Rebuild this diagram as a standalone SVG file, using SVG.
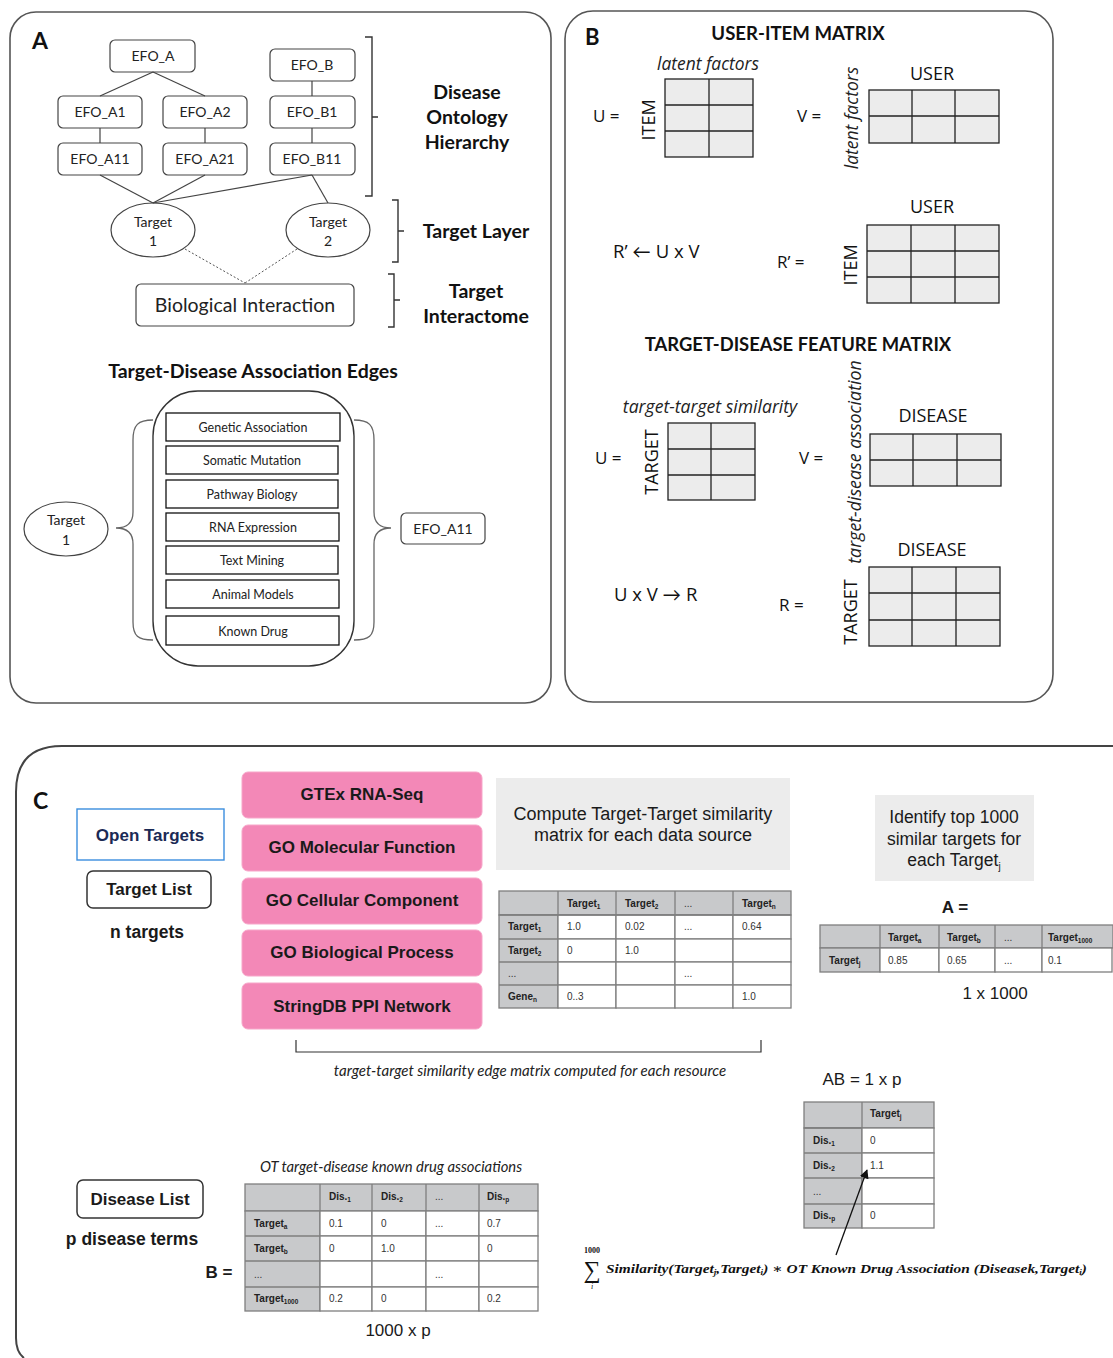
<svg xmlns="http://www.w3.org/2000/svg" width="1113" height="1358" viewBox="0 0 1113 1358">
<style>
.panel{fill:#fff;stroke:#555;stroke-width:1.6}
.node{fill:#fff;stroke:#444;stroke-width:1.2}
.ntx{font-family:Lato,"Open Sans",sans-serif;font-size:14px;fill:#222;text-anchor:middle}
.hd{font-family:Lato,"Open Sans",sans-serif;font-weight:bold;fill:#111;text-anchor:middle}
.lbl{font-family:"Open Sans",Lato,sans-serif;fill:#111}
.it{font-family:"Open Sans",Lato,sans-serif;font-style:italic;fill:#222}
.line{stroke:#444;stroke-width:1.2;fill:none}
.dot{stroke:#555;stroke-width:1;stroke-dasharray:2 2;fill:none}
.br{stroke:#333;stroke-width:1.4;fill:none}
.brace{stroke:#666;stroke-width:1.3;fill:none}
.ev{fill:#fff;stroke:#111;stroke-width:1.3}
.evt{font-family:Lato,"Open Sans",sans-serif;font-size:12.5px;fill:#222;text-anchor:middle}
.grid{fill:#ececec;stroke:#222;stroke-width:1.3}
.gl{stroke:#222;stroke-width:1.3}
.pink{fill:#f388b7;stroke:#f7a6c9;stroke-width:1}
.pt{font-family:"Liberation Sans",Arial,sans-serif;font-weight:bold;font-size:17px;fill:#1a1a1a;text-anchor:middle}
.ar{font-family:"Liberation Sans",Arial,sans-serif;fill:#1a1a1a}
.gbox{fill:#ececec}
.tg{fill:#c8c9cb;stroke:#7f7f7f;stroke-width:1.3}
.tw{fill:#fff;stroke:#7f7f7f;stroke-width:1.3}
.th{font-family:"Liberation Sans",Arial,sans-serif;font-weight:bold;font-size:10px;fill:#222}
.td{font-family:"Liberation Sans",Arial,sans-serif;font-size:10px;fill:#333}
.sb{font-size:6.5px}
</style>
<defs>
<marker id="arr" viewBox="0 0 10 10" refX="9" refY="5" markerWidth="7" markerHeight="7" orient="auto"><path d="M0,0 L10,5 L0,10 z" fill="#111"/></marker>
</defs>

<!-- Panel frames -->
<rect class="panel" x="10" y="12" width="541" height="691" rx="26"/>
<rect class="panel" x="565" y="11" width="488" height="691" rx="28"/>
<path d="M1113,746 L62,746 Q16,746 16,792 L16,1338 Q16,1352 24,1358" fill="none" stroke="#444" stroke-width="2"/>

<!-- Panel A -->
<text x="32" y="49" font-family="Lato,sans-serif" font-weight="bold" font-size="23" fill="#111">A</text>

<g id="efo_a"><rect class="node" x="110" y="40" width="85" height="32" rx="5"/><text class="ntx" x="153" y="61">EFO_A</text></g>
<g id="efo_b"><rect class="node" x="270" y="49" width="85" height="32" rx="5"/><text class="ntx" x="312" y="70">EFO_B</text></g>
<g id="efo_a1"><rect class="node" x="58" y="96" width="84" height="32" rx="5"/><text class="ntx" x="100" y="117">EFO_A1</text></g>
<g id="efo_a2"><rect class="node" x="163" y="96" width="84" height="32" rx="5"/><text class="ntx" x="205" y="117">EFO_A2</text></g>
<g id="efo_b1"><rect class="node" x="270" y="96" width="85" height="32" rx="5"/><text class="ntx" x="312" y="117">EFO_B1</text></g>
<g id="efo_a11"><rect class="node" x="58" y="143" width="84" height="32" rx="5"/><text class="ntx" x="100" y="164">EFO_A11</text></g>
<g id="efo_a21"><rect class="node" x="163" y="143" width="84" height="32" rx="5"/><text class="ntx" x="205" y="164">EFO_A21</text></g>
<g id="efo_b11"><rect class="node" x="270" y="143" width="85" height="32" rx="5"/><text class="ntx" x="312" y="164">EFO_B11</text></g>
<g id="target1"><ellipse class="node" cx="153" cy="230" rx="42" ry="27"/><text class="ntx" x="153" y="227">Target</text><text class="ntx" x="153" y="246">1</text></g>
<g id="target2"><ellipse class="node" cx="328" cy="230" rx="42" ry="27"/><text class="ntx" x="328" y="227">Target</text><text class="ntx" x="328" y="246">2</text></g>
<g id="bio"><rect class="node" x="136" y="284" width="218" height="42" rx="5"/><text class="ntx" x="245" y="312" style="font-size:19.5px">Biological Interaction</text></g>

<g id="brackets">
<path class="br" d="M365,37 L372,37 L372,196 L365,196 M372,117 L378,117"/>
<path class="br" d="M392,200 L398,200 L398,262 L392,262 M398,231 L404,231"/>
<path class="br" d="M388,274 L394,274 L394,327 L388,327 M394,300 L400,300"/>
</g>
<text class="hd" font-size="19.5" x="467" y="99">Disease</text>
<text class="hd" font-size="19.5" x="467" y="124">Ontology</text>
<text class="hd" font-size="19.5" x="467" y="149">Hierarchy</text>
<text class="hd" font-size="19.5" x="476" y="238">Target Layer</text>
<text class="hd" font-size="19.5" x="476" y="298">Target</text>
<text class="hd" font-size="19.5" x="476" y="323">Interactome</text>

<text class="hd" font-size="19.5" x="253" y="378">Target-Disease Association Edges</text>
<g id="evidence">
<rect x="153" y="391" width="201" height="275" rx="45" fill="#fff" stroke="#333" stroke-width="1.4"/>
<rect class="ev" x="166" y="413" width="174" height="28"/><text class="evt" x="253" y="432">Genetic Association</text>
<rect class="ev" x="166" y="446" width="172" height="28"/><text class="evt" x="252" y="465">Somatic Mutation</text>
<rect class="ev" x="166" y="480" width="172" height="28"/><text class="evt" x="252" y="499">Pathway Biology</text>
<rect class="ev" x="166" y="513" width="173" height="28"/><text class="evt" x="253" y="532">RNA Expression</text>
<rect class="ev" x="166" y="546" width="172" height="28"/><text class="evt" x="252" y="565">Text Mining</text>
<rect class="ev" x="166" y="580" width="173" height="28"/><text class="evt" x="253" y="599">Animal Models</text>
<rect class="ev" x="166" y="616" width="173" height="29"/><text class="evt" x="253" y="636">Known Drug</text>
</g>
<path class="brace" d="M153,420 C138,420 133,425 133,440 L133,512 C133,522 128,528 116,528 C128,528 133,534 133,544 L133,622 C133,636 138,640 153,640"/>
<path class="brace" d="M354,420 C369,420 374,425 374,440 L374,512 C374,522 379,528 391,528 C379,528 374,534 374,544 L374,622 C374,636 369,640 354,640"/>
<g id="target1b"><ellipse class="node" cx="66" cy="529" rx="42" ry="27"/><text class="ntx" x="66" y="525">Target</text><text class="ntx" x="66" y="545">1</text></g>
<g id="efo_a11b"><rect class="node" x="401" y="513" width="84" height="31" rx="5"/><text class="ntx" x="443" y="534">EFO_A11</text></g>

<!-- Panel B -->
<text x="585" y="45" font-family="Lato,sans-serif" font-weight="bold" font-size="22" fill="#111">B</text>
<text class="hd" font-size="18.6" x="798" y="40">USER-ITEM MATRIX</text>
<text class="it" font-size="17.4" x="708" y="70" text-anchor="middle">latent factors</text>
<text class="lbl" font-size="17" x="593" y="122">U =</text>
<text class="lbl" font-size="18" x="0" y="0" text-anchor="middle" transform="translate(655,120) rotate(-90)">ITEM</text>
<g id="u1"><rect class="grid" x="665" y="79" width="88" height="78"/><path class="gl" d="M709,79 V157 M665,105 H753 M665,131 H753"/></g>
<text class="lbl" font-size="17" x="797" y="122">V =</text>
<text class="it" font-size="17.5" x="0" y="0" text-anchor="middle" transform="translate(858,118) rotate(-90)">latent factors</text>
<text class="lbl" font-size="18" x="932" y="80" text-anchor="middle">USER</text>
<g id="v1"><rect class="grid" x="869" y="90" width="130" height="53"/><path class="gl" d="M912,90 V143 M955,90 V143 M869,116 H999"/></g>
<text class="lbl" font-size="18.5" x="613" y="258">R’ ← U x V</text>
<text class="lbl" font-size="18" x="932" y="213" text-anchor="middle">USER</text>
<text class="lbl" font-size="17" x="777" y="268">R’ =</text>
<text class="lbl" font-size="18" x="0" y="0" text-anchor="middle" transform="translate(857,265) rotate(-90)">ITEM</text>
<g id="r1"><rect class="grid" x="867" y="225" width="132" height="78"/><path class="gl" d="M911,225 V303 M955,225 V303 M867,251 H999 M867,277 H999"/></g>

<text class="hd" font-size="18.4" x="798" y="351">TARGET-DISEASE FEATURE MATRIX</text>
<text class="it" font-size="17.6" x="710" y="413" text-anchor="middle">target-target similarity</text>
<text class="lbl" font-size="17" x="595" y="464">U =</text>
<text class="lbl" font-size="18" x="0" y="0" text-anchor="middle" transform="translate(658,462) rotate(-90)">TARGET</text>
<g id="u2"><rect class="grid" x="668" y="423" width="87" height="77"/><path class="gl" d="M711,423 V500 M668,449 H755 M668,475 H755"/></g>
<text class="lbl" font-size="17" x="799" y="464">V =</text>
<text class="it" font-size="17.8" x="0" y="0" text-anchor="middle" transform="translate(861,462) rotate(-90)">target-disease association</text>
<text class="lbl" font-size="18" x="933" y="422" text-anchor="middle">DISEASE</text>
<g id="v2"><rect class="grid" x="870" y="434" width="131" height="52"/><path class="gl" d="M913,434 V486 M957,434 V486 M870,460 H1001"/></g>
<text class="lbl" font-size="18.5" x="614" y="601">U x V → R</text>
<text class="lbl" font-size="18" x="932" y="556" text-anchor="middle">DISEASE</text>
<text class="lbl" font-size="17" x="779" y="611">R  =</text>
<text class="lbl" font-size="18" x="0" y="0" text-anchor="middle" transform="translate(857,612) rotate(-90)">TARGET</text>
<g id="r2"><rect class="grid" x="869" y="567" width="131" height="79"/><path class="gl" d="M912,567 V646 M956,567 V646 M869,593 H1000 M869,620 H1000"/></g>

<!-- Panel C -->
<text x="33" y="809" font-family="Lato,sans-serif" font-weight="bold" font-size="23" fill="#111">C</text>
<g id="opentargets"><rect x="77" y="809" width="147" height="51" fill="#fff" stroke="#3b8ede" stroke-width="1.4"/><text class="pt" x="150" y="841" style="fill:#1b2a55">Open Targets</text></g>
<g id="targetlist"><rect x="87" y="871" width="124" height="37" rx="6" fill="#fff" stroke="#333" stroke-width="1.5"/><text class="pt" x="149" y="895">Target List</text></g>
<text class="pt" x="147" y="938" style="font-size:17.5px">n targets</text>

<g id="gtex"><rect class="pink" x="242" y="772" width="240" height="46" rx="6"/><text class="pt" x="362" y="800">GTEx RNA-Seq</text></g>
<g id="gomf"><rect class="pink" x="242" y="825" width="240" height="46" rx="6"/><text class="pt" x="362" y="853">GO Molecular Function</text></g>
<g id="gocc"><rect class="pink" x="242" y="878" width="240" height="46" rx="6"/><text class="pt" x="362" y="906">GO Cellular Component</text></g>
<g id="gobp"><rect class="pink" x="242" y="930" width="240" height="46" rx="6"/><text class="pt" x="362" y="958">GO Biological Process</text></g>
<g id="string"><rect class="pink" x="242" y="983" width="240" height="46" rx="6"/><text class="pt" x="362" y="1012">StringDB PPI Network</text></g>

<g id="compute"><rect class="gbox" x="496" y="778" width="294" height="92"/>
<text class="ar" font-size="18" x="643" y="820" text-anchor="middle">Compute Target-Target similarity</text>
<text class="ar" font-size="18" x="643" y="841" text-anchor="middle">matrix for each data source</text></g>

<g id="table1">
<rect class="tg" x="499" y="891" width="292" height="24"/>
<rect class="tg" x="499" y="915" width="59" height="93"/>
<rect class="tw" x="558" y="915" width="58" height="24"/><rect class="tw" x="616" y="915" width="59" height="24"/><rect class="tw" x="675" y="915" width="58" height="24"/><rect class="tw" x="733" y="915" width="58" height="24"/>
<rect class="tw" x="558" y="939" width="58" height="23"/><rect class="tw" x="616" y="939" width="59" height="23"/><rect class="tw" x="675" y="939" width="58" height="23"/><rect class="tw" x="733" y="939" width="58" height="23"/>
<rect class="tw" x="558" y="962" width="58" height="23"/><rect class="tw" x="616" y="962" width="59" height="23"/><rect class="tw" x="675" y="962" width="58" height="23"/><rect class="tw" x="733" y="962" width="58" height="23"/>
<rect class="tw" x="558" y="985" width="58" height="23"/><rect class="tw" x="616" y="985" width="59" height="23"/><rect class="tw" x="675" y="985" width="58" height="23"/><rect class="tw" x="733" y="985" width="58" height="23"/>
<path d="M499,915 H791 M499,939 H558 M499,962 H558 M499,985 H558 M558,891 V915 M616,891 V915 M675,891 V915 M733,891 V915" stroke="#7f7f7f" stroke-width="1.3"/>
<text class="th" x="567" y="907">Target<tspan class="sb" dy="2">1</tspan></text>
<text class="th" x="625" y="907">Target<tspan class="sb" dy="2">2</tspan></text>
<text class="td" x="684" y="907">...</text>
<text class="th" x="742" y="907">Target<tspan class="sb" dy="2">n</tspan></text>
<text class="th" x="508" y="930">Target<tspan class="sb" dy="2">1</tspan></text>
<text class="td" x="567" y="930">1.0</text><text class="td" x="625" y="930">0.02</text><text class="td" x="684" y="930">...</text><text class="td" x="742" y="930">0.64</text>
<text class="th" x="508" y="954">Target<tspan class="sb" dy="2">2</tspan></text>
<text class="td" x="567" y="954">0</text><text class="td" x="625" y="954">1.0</text>
<text class="td" x="508" y="977">...</text><text class="td" x="684" y="977">...</text>
<text class="th" x="508" y="1000">Gene<tspan class="sb" dy="2">n</tspan></text>
<text class="td" x="567" y="1000">0..3</text><text class="td" x="742" y="1000">1.0</text>
</g>

<path d="M296,1040 V1052 H761 V1040" fill="none" stroke="#333" stroke-width="1.2"/>
<text x="530" y="1076" font-family="Lato,sans-serif" font-style="italic" font-size="15" fill="#222" text-anchor="middle">target-target similarity edge matrix computed for each resource</text>

<g id="identify"><rect class="gbox" x="875" y="795" width="159" height="86"/>
<text class="ar" font-size="17.5" x="954" y="823" text-anchor="middle">Identify top 1000</text>
<text class="ar" font-size="17.5" x="954" y="845" text-anchor="middle">similar targets for</text>
<text class="ar" font-size="17.5" x="954" y="866" text-anchor="middle">each Target<tspan font-size="10" dy="4">j</tspan></text></g>

<text class="ar" font-size="17" font-weight="bold" x="955" y="913" text-anchor="middle">A =</text>
<g id="tableA">
<rect class="tg" x="820" y="925" width="293" height="23"/>
<rect class="tg" x="820" y="948" width="60" height="24"/>
<rect class="tw" x="880" y="948" width="59" height="24"/><rect class="tw" x="939" y="948" width="56" height="24"/><rect class="tw" x="995" y="948" width="47" height="24"/><rect class="tw" x="1042" y="948" width="70" height="24"/>
<path d="M880,925 V948 M939,925 V948 M995,925 V948 M1042,925 V948" stroke="#7f7f7f" stroke-width="1.3"/>
<text class="th" x="888" y="941">Target<tspan class="sb" dy="2">a</tspan></text>
<text class="th" x="947" y="941">Target<tspan class="sb" dy="2">b</tspan></text>
<text class="td" x="1004" y="941">...</text>
<text class="th" x="1048" y="941">Target<tspan class="sb" dy="2">1000</tspan></text>
<text class="th" x="829" y="964">Target<tspan class="sb" dy="2">j</tspan></text>
<text class="td" x="888" y="964">0.85</text><text class="td" x="947" y="964">0.65</text><text class="td" x="1004" y="964">...</text><text class="td" x="1048" y="964">0.1</text>
</g>
<text class="ar" font-size="17" x="995" y="999" text-anchor="middle">1 x 1000</text>

<text class="ar" font-size="17" x="862" y="1085" text-anchor="middle">AB = 1 x p</text>
<g id="tableAB">
<rect class="tg" x="804" y="1102" width="130" height="26"/>
<rect class="tg" x="804" y="1128" width="58" height="100"/>
<rect class="tw" x="862" y="1128" width="72" height="25"/><rect class="tw" x="862" y="1153" width="72" height="25"/><rect class="tw" x="862" y="1178" width="72" height="26"/><rect class="tw" x="862" y="1204" width="72" height="24"/>
<path d="M862,1102 V1128 M804,1128 H862 M804,1153 H862 M804,1178 H862 M804,1204 H862" stroke="#7f7f7f" stroke-width="1.3"/>
<text class="th" x="870" y="1117">Target<tspan class="sb" dy="2">j</tspan></text>
<text class="th" x="813" y="1144">Dis.<tspan class="sb" dy="2">1</tspan></text><text class="td" x="870" y="1144">0</text>
<text class="th" x="813" y="1169">Dis.<tspan class="sb" dy="2">2</tspan></text><text class="td" x="870" y="1169">1.1</text>
<text class="td" x="813" y="1195">...</text>
<text class="th" x="813" y="1219">Dis.<tspan class="sb" dy="2">p</tspan></text><text class="td" x="870" y="1219">0</text>
</g>

<g id="formula" font-family="'Liberation Serif','DejaVu Serif',serif" fill="#111">
<text x="592" y="1253" font-size="8" font-weight="bold" text-anchor="middle">1000</text>
<text x="592" y="1278" font-size="24" text-anchor="middle">∑</text>
<text x="592" y="1289" font-size="8" font-style="italic" text-anchor="middle">i</text>
<text x="606" y="1273" font-size="12.5" font-weight="bold" font-style="italic" textLength="481" lengthAdjust="spacingAndGlyphs">Similarity(Target<tspan font-size="7.5" dy="2">j</tspan><tspan dy="-2">,Target</tspan><tspan font-size="7.5" dy="2">i</tspan><tspan dy="-2">) ∗ OT Known Drug Association (Diseasek,Target</tspan><tspan font-size="7.5" dy="2">i</tspan><tspan dy="-2">)</tspan></text>
</g>

<g id="diseaselist"><rect x="77" y="1180" width="126" height="38" rx="6" fill="#fff" stroke="#333" stroke-width="1.5"/><text class="pt" x="140" y="1205">Disease List</text></g>
<text class="pt" x="132" y="1245" style="font-size:17.5px">p disease terms</text>
<text x="391" y="1172" font-family="Lato,sans-serif" font-style="italic" font-size="14.8" fill="#222" text-anchor="middle">OT target-disease known drug associations</text>
<text class="ar" font-size="17" font-weight="bold" x="219" y="1278" text-anchor="middle">B =</text>
<g id="tableB">
<rect class="tg" x="245" y="1184" width="293" height="27"/>
<rect class="tg" x="245" y="1211" width="75" height="100"/>
<rect class="tw" x="320" y="1211" width="52" height="25"/><rect class="tw" x="372" y="1211" width="54" height="25"/><rect class="tw" x="426" y="1211" width="53" height="25"/><rect class="tw" x="479" y="1211" width="59" height="25"/>
<rect class="tw" x="320" y="1236" width="52" height="25"/><rect class="tw" x="372" y="1236" width="54" height="25"/><rect class="tw" x="426" y="1236" width="53" height="25"/><rect class="tw" x="479" y="1236" width="59" height="25"/>
<rect class="tw" x="320" y="1261" width="52" height="26"/><rect class="tw" x="372" y="1261" width="54" height="26"/><rect class="tw" x="426" y="1261" width="53" height="26"/><rect class="tw" x="479" y="1261" width="59" height="26"/>
<rect class="tw" x="320" y="1287" width="52" height="24"/><rect class="tw" x="372" y="1287" width="54" height="24"/><rect class="tw" x="426" y="1287" width="53" height="24"/><rect class="tw" x="479" y="1287" width="59" height="24"/>
<path d="M320,1184 V1211 M372,1184 V1211 M426,1184 V1211 M479,1184 V1211 M245,1236 H320 M245,1261 H320 M245,1287 H320" stroke="#7f7f7f" stroke-width="1.3"/>
<text class="th" x="329" y="1200">Dis.<tspan class="sb" dy="2">1</tspan></text>
<text class="th" x="381" y="1200">Dis.<tspan class="sb" dy="2">2</tspan></text>
<text class="td" x="435" y="1200">...</text>
<text class="th" x="487" y="1200">Dis.<tspan class="sb" dy="2">p</tspan></text>
<text class="th" x="254" y="1227">Target<tspan class="sb" dy="2">a</tspan></text>
<text class="td" x="329" y="1227">0.1</text><text class="td" x="381" y="1227">0</text><text class="td" x="435" y="1227">...</text><text class="td" x="487" y="1227">0.7</text>
<text class="th" x="254" y="1252">Target<tspan class="sb" dy="2">b</tspan></text>
<text class="td" x="329" y="1252">0</text><text class="td" x="381" y="1252">1.0</text><text class="td" x="487" y="1252">0</text>
<text class="td" x="254" y="1278">...</text><text class="td" x="435" y="1278">...</text>
<text class="th" x="254" y="1302">Target<tspan class="sb" dy="2">1000</tspan></text>
<text class="td" x="329" y="1302">0.2</text><text class="td" x="381" y="1302">0</text><text class="td" x="487" y="1302">0.2</text>
</g>
<text class="ar" font-size="17" x="398" y="1336" text-anchor="middle">1000 x p</text>

<g id="connectors">
<line class="line" x1="153" y1="72" x2="100" y2="96"/>
<line class="line" x1="153" y1="72" x2="205" y2="96"/>
<line class="line" x1="312" y1="81" x2="312" y2="96"/>
<line class="line" x1="100" y1="128" x2="100" y2="143"/>
<line class="line" x1="205" y1="128" x2="205" y2="143"/>
<line class="line" x1="312" y1="128" x2="312" y2="143"/>
<line class="line" x1="100" y1="175" x2="153" y2="203"/>
<line class="line" x1="205" y1="175" x2="153" y2="203"/>
<line class="line" x1="312" y1="175" x2="153" y2="203"/>
<line class="line" x1="312" y1="175" x2="328" y2="203"/>
<line class="dot" x1="185" y1="249" x2="245" y2="283"/>
<line class="dot" x1="297" y1="249" x2="245" y2="283"/>
<line x1="836" y1="1255" x2="867" y2="1170" stroke="#111" stroke-width="1.3" marker-end="url(#arr)"/>
</g>
</svg>
